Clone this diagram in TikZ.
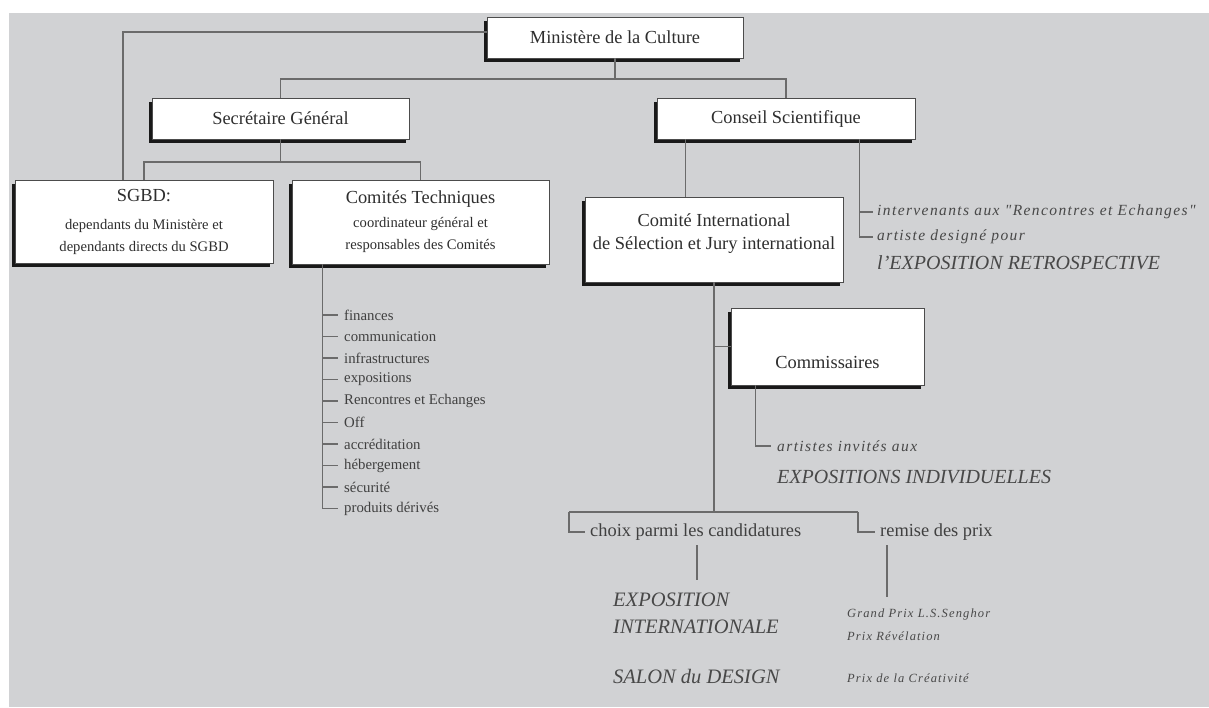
\documentclass[tikz,border=0pt]{standalone}
\usepackage{fontspec}
\setmainfont{Liberation Serif}
\newfontfamily\spfont[LetterSpace=9]{Liberation Serif}
\usetikzlibrary{shadows}
\definecolor{bg}{HTML}{D1D2D4}
\definecolor{ln}{HTML}{6B6B6B}
\definecolor{tx}{HTML}{2E2E2E}
\definecolor{tg}{HTML}{404040}
\definecolor{ti}{HTML}{484848}
\begin{document}
\begin{tikzpicture}[x=1pt,y=-1pt,
 box/.style={draw=black!70, line width=0.9pt, fill=white, inner sep=0pt,
   general shadow={fill=black!90, shadow xshift=-3pt, shadow yshift=-4pt}},
 big/.style={font=\fontsize{18.4}{24}\selectfont, text=tx, align=center},
 small/.style={font=\fontsize{14.6}{22}\selectfont, text=tx, align=center},
 conn/.style={draw=ln, line width=1.1pt},
 item/.style={anchor=west, inner sep=0pt, text=tg, font=\fontsize{14.8}{17}\selectfont},
 lbl/.style={anchor=west, inner sep=0pt, text=tg, font=\fontsize{18.4}{22}\selectfont},
 spit/.style={anchor=west, inner sep=0pt, text=ti, font=\fontsize{15.5}{18}\spfont\itshape},
 capit/.style={anchor=west, inner sep=0pt, text=ti, font=\fontsize{20}{24}\selectfont\itshape},
 prize/.style={anchor=west, inner sep=0pt, text=ti, font=\fontsize{12.5}{15}\spfont\itshape},
]
\useasboundingbox (0,0) rectangle (1209,707);
\fill[bg] (9,13) rectangle (1209,707);

% boxes
\node[box, big, minimum width=256pt, minimum height=41pt] (min) at (615,37.5) {Ministère de la Culture};
\node[box, big, minimum width=257pt, minimum height=41pt] (sec) at (280.5,118.5) {Secrétaire Général};
\node[box, big, minimum width=258pt, minimum height=41pt] (cons) at (786,118.5) {Conseil Scientifique};
\node[box, small, minimum width=258pt, minimum height=83pt] (sgbd) at (144,221.5)
  {{\fontsize{18.4}{24}\selectfont SGBD:}\\[6pt]dependants du Ministère et\\dependants directs du SGBD};
\node[box, small, minimum width=257pt, minimum height=84pt] (comt) at (420.5,222)
  {{\fontsize{18.4}{24}\selectfont Comités Techniques}\\[2pt]coordinateur général et\\responsables des Comités};
\node[box, minimum width=258pt, minimum height=85pt] (ci) at (714,239.5) {};
\node[big, inner sep=0pt, font=\fontsize{18.4}{23}\selectfont] (citext) at (714,234) {Comité International\\de Sélection et Jury international};
\node[box, minimum width=193pt, minimum height=77pt] (comm) at (827.5,346.5) {};
\node[big, inner sep=0pt] (commtext) at (827.5,362) {Commissaires};

% Comités list
\node[item] (i1) at (344,315) {finances};
\node[item] (i2) at (344,336.5) {communication};
\node[item] (i3) at (344,358) {infrastructures};
\node[item] (i4) at (344,379.5) {expositions};
\node[item] (i5) at (344,401) {Rencontres et Echanges};
\node[item] (i6) at (344,422.5) {Off};
\node[item] (i7) at (344,444) {accréditation};
\node[item] (i8) at (344,465.5) {hébergement};
\node[item] (i9) at (344,487) {sécurité};
\node[item] (i10) at (344,508.5) {produits dérivés};

% Conseil side texts
\node[spit] (inter) at (877,212) {intervenants aux "Rencontres et Echanges"};
\node[spit] (art) at (877,237) {artiste designé pour};
\node[capit] (retro) at (877,263) {l'EXPOSITION RETROSPECTIVE};

% Commissaires texts
\node[spit] (invites) at (777,446) {artistes invités aux};
\node[capit] (indiv) at (777,477) {EXPOSITIONS INDIVIDUELLES};

% bottom branches
\node[lbl] (choix) at (590,532) {choix parmi les candidatures};
\node[lbl] (remise) at (880,532) {remise des prix};
\node[capit, font=\fontsize{20.5}{24}\selectfont\itshape] (expo) at (613,600) {EXPOSITION};
\node[capit, font=\fontsize{20.5}{24}\selectfont\itshape] (inat) at (613,627) {INTERNATIONALE};
\node[capit, font=\fontsize{20.5}{24}\selectfont\itshape] (salon) at (613,676) {SALON du DESIGN};
\node[prize] (gp) at (847,614) {Grand Prix L.S.Senghor};
\node[prize] (rev) at (847,636) {Prix Révélation};
\node[prize] (crea) at (847,678) {Prix de la Créativité};

% coordinates
\coordinate (j1) at (615,79);
\coordinate (j2) at (280.5,162);
\coordinate (j3) at (714,512);
\coordinate (jl) at (569,512);
\coordinate (jr) at (858,512);
\coordinate (va) at (697,545);
\coordinate (vb) at (697,580);
\coordinate (wa) at (887,545);
\coordinate (wb) at (887,597);

% connectors
\draw[conn] ([yshift=5.5pt]min.west) -| ([xshift=-21pt]sgbd.north);
\draw[conn] (min.south) -- (j1);
\draw[conn] (sec.north) |- (j1) -| (cons.north);
\draw[conn] (sec.south) -- (j2);
\draw[conn] (sgbd.north) |- (j2) -| (comt.north);
\draw[conn] ([xshift=31pt]comt.south west) |- ([xshift=-6pt]i10.west);
\foreach \k in {1,...,9} \draw[conn] ([xshift=-21pt]i\k.west) -- ([xshift=-6pt]i\k.west);
\draw[conn] ([xshift=29pt]cons.south west) -- ([xshift=29pt]cons.south west |- ci.north);
\draw[conn] ([xshift=-56pt]cons.south east) |- ([xshift=-4pt]art.west);
\draw[conn] ([xshift=-18pt]inter.west) -- ([xshift=-4pt]inter.west);
\draw[conn] (ci.south) -- (j3);
\draw[conn] (ci.south |- comm.west) -- (comm.west);
\draw[conn] ([xshift=25pt]comm.south west) |- ([xshift=-6pt]invites.west);
\draw[conn] (jl) -- (jr);
\draw[conn] (jl) |- ([xshift=-5pt]choix.west);
\draw[conn] (jr) |- ([xshift=-5pt]remise.west);
\draw[conn] (va) -- (vb);
\draw[conn] (wa) -- (wb);
\end{tikzpicture}
\end{document}
